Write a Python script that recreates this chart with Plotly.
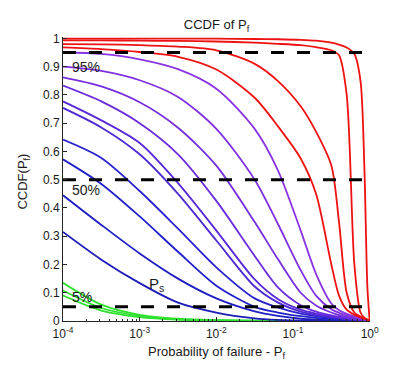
import plotly.graph_objects as go

# Probability of failure grid (x positions of the read values)
P_GRID = [1e-4, 3.162e-4, 1e-3, 3.162e-3, 1e-2, 3.162e-2, 6.31e-2, 0.1259, 0.1995,
          0.3162, 0.3981, 0.5012, 0.631, 0.7586, 0.8511, 0.9333, 1.0]

# CCDF values, one list per curve (lowest to highest)
green_1 = [0.090, 0.037, 0.014, 0.005, 0.0017, 0.0006, 0.0003, 0.0001, 0, 0, 0, 0, 0, 0, 0, 0, 0]
green_2 = [0.108, 0.046, 0.018, 0.006, 0.002, 0.0008, 0.0004, 0.0001, 0, 0, 0, 0, 0, 0, 0, 0, 0]
green_3 = [0.135, 0.058, 0.022, 0.008, 0.003, 0.001, 0.0005, 0.0002, 0, 0, 0, 0, 0, 0, 0, 0, 0]
blue_1 = [0.315, 0.217, 0.134, 0.065, 0.030, 0.0096, 0.004, 0.0015, 0.0008, 0.0004, 0.0003, 0.0002, 0.0001, 0, 0, 0, 0]
blue_2 = [0.445, 0.340, 0.239, 0.150, 0.080, 0.034, 0.018, 0.008, 0.005, 0.003, 0.002, 0.0015, 0.001, 0.0006, 0.0003, 0.0001, 0]
blue_3 = [0.572, 0.485, 0.370, 0.245, 0.125, 0.050, 0.030, 0.017, 0.011, 0.007, 0.005, 0.004, 0.003, 0.002, 0.001, 0.0005, 0]
blue_4 = [0.642, 0.577, 0.460, 0.327, 0.190, 0.080, 0.048, 0.026, 0.017, 0.010, 0.008, 0.006, 0.004, 0.003, 0.002, 0.001, 0]
purple_1 = [0.754, 0.685, 0.590, 0.450, 0.285, 0.122, 0.066, 0.033, 0.021, 0.013, 0.010, 0.007, 0.005, 0.003, 0.002, 0.001, 0]
purple_2 = [0.777, 0.710, 0.630, 0.488, 0.320, 0.147, 0.078, 0.040, 0.026, 0.016, 0.012, 0.009, 0.006, 0.004, 0.0025, 0.001, 0]
purple_3 = [0.833, 0.777, 0.700, 0.590, 0.425, 0.230, 0.120, 0.056, 0.033, 0.020, 0.015, 0.011, 0.007, 0.005, 0.003, 0.0015, 0]
purple_4 = [0.862, 0.830, 0.774, 0.684, 0.550, 0.350, 0.220, 0.100, 0.055, 0.030, 0.021, 0.015, 0.010, 0.006, 0.004, 0.002, 0]
purple_5 = [0.900, 0.885, 0.852, 0.793, 0.680, 0.500, 0.345, 0.180, 0.090, 0.042, 0.029, 0.020, 0.013, 0.008, 0.005, 0.002, 0]
purple_6 = [0.951, 0.945, 0.926, 0.891, 0.822, 0.680, 0.535, 0.320, 0.167, 0.062, 0.038, 0.025, 0.016, 0.010, 0.006, 0.003, 0]
red_1 = [0.968, 0.962, 0.952, 0.935, 0.890, 0.790, 0.690, 0.575, 0.450, 0.200, 0.090, 0.040, 0.022, 0.013, 0.008, 0.003, 0]
red_2 = [0.980, 0.979, 0.976, 0.971, 0.958, 0.910, 0.850, 0.760, 0.670, 0.550, 0.350, 0.100, 0.030, 0.016, 0.009, 0.004, 0]
red_3 = [0.993, 0.993, 0.992, 0.991, 0.989, 0.985, 0.981, 0.976, 0.969, 0.958, 0.940, 0.800, 0.200, 0.030, 0.012, 0.005, 0]
red_4 = [0.999, 0.999, 0.999, 0.999, 0.999, 0.998, 0.997, 0.995, 0.992, 0.985, 0.978, 0.968, 0.945, 0.850, 0.550, 0.120, 0]

CURVES = [
    (green_1, "#2fe02f"), (green_2, "#2fe02f"), (green_3, "#2fe02f"),
    (blue_1, "#1c1cb8"), (blue_2, "#1e1ec2"), (blue_3, "#2020ca"), (blue_4, "#2a22ce"),
    (purple_1, "#4c28d4"), (purple_2, "#5628d8"), (purple_3, "#6a2cdc"),
    (purple_4, "#762ede"), (purple_5, "#8030e0"), (purple_6, "#8a34e2"),
    (red_1, "#ee1111"), (red_2, "#ee1111"), (red_3, "#ee1111"), (red_4, "#ee1111"),
]

# Reference levels (dashed black lines)
LEVELS = [0.95, 0.5, 0.05]
LEVEL_X = [1e-4, 1.0]
LEVEL_LABELS = ["95%", "50%", "5%"]
LEVEL_LABEL_Y = [0.9, 0.462, 0.086]

X_TICKS = [1e-4, 1e-3, 1e-2, 1e-1, 1.0]
X_TICK_TEXT = ["10<sup>-4</sup>", "10<sup>-3</sup>", "10<sup>-2</sup>", "10<sup>-1</sup>", "10<sup>0</sup>"]
Y_TICKS = [0, 0.1, 0.2, 0.3, 0.4, 0.5, 0.6, 0.7, 0.8, 0.9, 1.0]
Y_TICK_TEXT = ["0", "0.1", "0.2", "0.3", "0.4", "0.5", "0.6", "0.7", "0.8", "0.9", "1"]
X_MINOR = [m * 10.0 ** e for e in range(-4, 0) for m in range(2, 10)]

FONT = "Liberation Sans, Arial, Helvetica, sans-serif"
INK = "#1a1a1a"

fig = go.Figure()
for values, color in CURVES:
    fig.add_trace(go.Scatter(
        x=P_GRID, y=values, mode="lines",
        line=dict(color=color, width=1.8, shape="spline", smoothing=0.8),
        showlegend=False, hoverinfo="skip"))

for lvl in LEVELS:
    fig.add_trace(go.Scatter(
        x=LEVEL_X, y=[lvl, lvl], mode="lines",
        line=dict(color="black", width=3, dash="13px,13px"),
        showlegend=False, hoverinfo="skip"))

annotations = []
for txt, yv in zip(LEVEL_LABELS, LEVEL_LABEL_Y):
    annotations.append(dict(x=-3.91, y=yv, xref="x", yref="y", text=txt, showarrow=False,
                            xanchor="left", yanchor="middle",
                            font=dict(family=FONT, size=14, color=INK)))
annotations.append(dict(x=-2.91, y=0.13, xref="x", yref="y", text="P<sub>s</sub>", showarrow=False,
                        xanchor="left", yanchor="middle",
                        font=dict(family=FONT, size=15, color=INK)))
annotations.append(dict(x=0.5, y=-0.11, xref="paper", yref="paper",
                        text="Probability of failure - P<sub>f</sub>", showarrow=False,
                        xanchor="center", yanchor="middle",
                        font=dict(family=FONT, size=13, color=INK)))
annotations.append(dict(x=-0.128, y=0.49, xref="paper", yref="paper",
                        text="CCDF(P<sub>f</sub>)", showarrow=False, textangle=-90,
                        xanchor="center", yanchor="middle",
                        font=dict(family=FONT, size=13, color=INK)))

fig.update_layout(
    width=393, height=371,
    margin=dict(l=63, r=23, t=37, b=50),
    paper_bgcolor="white", plot_bgcolor="white",
    title=dict(text="CCDF of P<sub>f</sub>", x=0.551, xanchor="center", y=0.933,
               yanchor="middle", font=dict(family=FONT, size=13, color=INK)),
    annotations=annotations,
    font=dict(family=FONT, size=12, color=INK),
)
fig.update_xaxes(
    type="log", range=[-4, 0.004], showgrid=False, zeroline=False,
    showline=True, linecolor="#262626", linewidth=1,
    ticks="inside", ticklen=4, tickcolor="#262626",
    tickmode="array", tickvals=X_TICKS, ticktext=X_TICK_TEXT,
    tickfont=dict(family=FONT, size=12, color=INK), ticklabelstandoff=2,
    minor=dict(tickmode="array", tickvals=X_MINOR, ticks="inside", ticklen=2,
               tickcolor="#262626", showgrid=False),
)
fig.update_yaxes(
    range=[0, 1.005], showgrid=False, zeroline=False,
    showline=True, linecolor="#262626", linewidth=1,
    ticks="inside", ticklen=4, tickcolor="#262626",
    tickmode="array", tickvals=Y_TICKS, ticktext=Y_TICK_TEXT,
    tickfont=dict(family=FONT, size=12, color=INK),
)

fig.write_html("out.html", config={"displayModeBar": False},
               post_script="document.body.style.margin='0';document.body.style.padding='0';")
